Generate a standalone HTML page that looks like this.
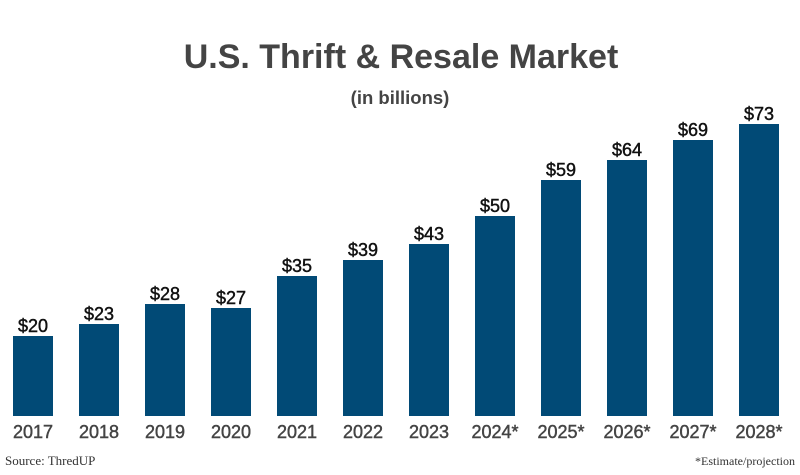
<!DOCTYPE html>
<html>
<head>
<meta charset="utf-8">
<style>
  html,body{margin:0;padding:0;background:#fff;}
  svg{display:block;}
</style>
</head>
<body>
<svg width="800" height="475" viewBox="0 0 800 475" xmlns="http://www.w3.org/2000/svg">
  <rect width="800" height="475" fill="#fff"/>
  <text x="401" y="68" text-anchor="middle" font-family="Liberation Sans, sans-serif" font-weight="bold" font-size="34" fill="#444">U.S. Thrift &amp; Resale Market</text>
  <text x="400" y="104" text-anchor="middle" font-family="Liberation Sans, sans-serif" font-weight="bold" font-size="18.5" fill="#444">(in billions)</text>

  <g fill="#014a76">
    <rect x="13" y="336" width="40" height="80"/>
    <rect x="79" y="324" width="40" height="92"/>
    <rect x="145" y="304" width="40" height="112"/>
    <rect x="211" y="308" width="40" height="108"/>
    <rect x="277" y="276" width="40" height="140"/>
    <rect x="343" y="260" width="40" height="156"/>
    <rect x="409" y="244" width="40" height="172"/>
    <rect x="475" y="216" width="40" height="200"/>
    <rect x="541" y="180" width="40" height="236"/>
    <rect x="607" y="160" width="40" height="256"/>
    <rect x="673" y="140" width="40" height="276"/>
    <rect x="739" y="124" width="40" height="292"/>
  </g>

  <g font-family="Liberation Sans, sans-serif" font-size="18" fill="#111" stroke="#111" stroke-width="0.45" text-anchor="middle">
    <text x="33" y="332">$20</text>
    <text x="99" y="320">$23</text>
    <text x="165" y="300">$28</text>
    <text x="231" y="304">$27</text>
    <text x="297" y="272">$35</text>
    <text x="363" y="256">$39</text>
    <text x="429" y="240">$43</text>
    <text x="495" y="212">$50</text>
    <text x="561" y="176">$59</text>
    <text x="627" y="156">$64</text>
    <text x="693" y="136">$69</text>
    <text x="759" y="120">$73</text>
  </g>

  <g font-family="Liberation Sans, sans-serif" font-size="18" fill="#444" stroke="#444" stroke-width="0.45" text-anchor="middle">
    <text x="33" y="438">2017</text>
    <text x="99" y="438">2018</text>
    <text x="165" y="438">2019</text>
    <text x="231" y="438">2020</text>
    <text x="297" y="438">2021</text>
    <text x="363" y="438">2022</text>
    <text x="429" y="438">2023</text>
    <text x="495" y="438">2024*</text>
    <text x="561" y="438">2025*</text>
    <text x="627" y="438">2026*</text>
    <text x="693" y="438">2027*</text>
    <text x="759" y="438">2028*</text>
  </g>

  <text x="5" y="465" font-family="Liberation Serif, serif" font-size="13" fill="#333">Source: ThredUP</text>
  <text x="795" y="465" text-anchor="end" font-family="Liberation Serif, serif" font-size="12" fill="#333">*Estimate/projection</text>
</svg>
</body>
</html>
